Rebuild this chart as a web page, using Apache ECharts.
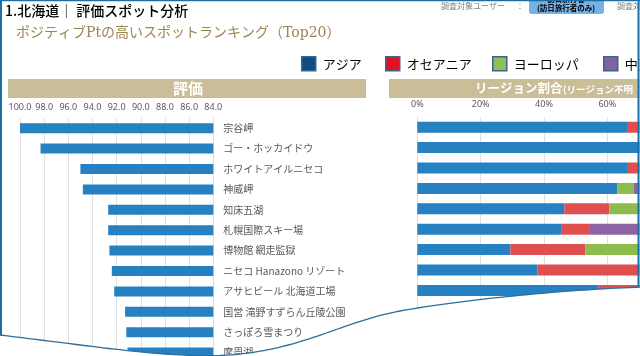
<!DOCTYPE html>
<html><head><meta charset="utf-8">
<script src="https://cdn.jsdelivr.net/npm/echarts@6/dist/echarts.min.js"></script>
<style>html,body{margin:0;padding:0;background:#fff}#c{width:640px;height:356px}</style>
</head><body><div id="c"></div>
<script>
const categories = ['宗谷岬','ゴー・ホッカイドウ','ホワイトアイルニセコ','神威岬','知床五湖','札幌国際スキー場','博物館 網走監獄','ニセコ Hanazono リゾート','アサヒビール 北海道工場','国営 滝野すずらん丘陵公園','さっぽろ雪まつり','摩周湖'];
const ratingValues = [100.0, 98.3, 95.0, 94.8, 92.7, 92.7, 92.6, 92.4, 92.2, 91.3, 91.2, 91.1];
const ratingTicks = [84, 100, 2];
const regionNames = ['アジア','オセアニア','ヨーロッパ','中東'];
const asiaShare    = [66.5, 100, 66.5, 63.1, 46.4, 45.4, 29.4, 37.9, 57.2, null, null, null];
const oceaniaShare = [33.5, 0, 33.5, 0, 14.2, 9.1, 23.6, 62.1, 42.8, null, null, null];
const europeShare  = [0, 0, 0, 5.2, 39.4, 0, 47.0, 0, 0, null, null, null];
const middleShare  = [0, 0, 0, 31.7, 0, 45.5, 0, 0, 0, null, null, null];
const shareTicks = [0, 100, 20];

const barColors = ['#2581c2','#e04f4f','#8dbb4e','#8c64a6'];
const legendColors = ['#0f4c81','#e3101e','#92c050','#8064a2'];
const legendLeft = [296, 380, 487, 598];
const FONT = '"Noto Sans CJK JP","Noto Sans",sans-serif';
const rowH = 20.4;
const gridH = categories.length * rowH;

const chart = echarts.init(document.getElementById('c'), null, {renderer:'canvas'});
const shares = [asiaShare, oceaniaShare, europeShare, middleShare];

// torn-paper edge (decoration): two cubic bezier segments sampled to points
function bez(p0, p1, p2, p3, n) {
  const out = [];
  for (let i = 0; i <= n; i++) {
    const t = i / n, u = 1 - t;
    out.push([
      u*u*u*p0[0] + 3*u*u*t*p1[0] + 3*u*t*t*p2[0] + t*t*t*p3[0],
      u*u*u*p0[1] + 3*u*u*t*p1[1] + 3*u*t*t*p2[1] + t*t*t*p3[1]
    ]);
  }
  return out;
}
const edge = bez([0,335],[100,347],[160,357],[220,355.5],40)
  .concat(bez([220,355.5],[300,352],[340,322],[400,311],40).slice(1))
  .concat(bez([400,311],[460,300],[560,290],[642,287],40).slice(1));
const edgeFill = edge.concat([[642,360],[-2,360]]);

chart.setOption({
  animation: false,
  textStyle: {fontFamily: FONT},
  legend: regionNames.map((n, i) => ({
    left: legendLeft[i], top: 51, itemWidth: 14, itemHeight: 14, icon: 'rect',
    textStyle: {fontSize: 13, color: '#000', fontFamily: FONT, padding: [0,0,0,2]},
    data: [{name: n, itemStyle: {color: legendColors[i], borderColor: '#3a6591', borderWidth: 1.5}}]
  })),
  grid: [
    {left: 20, width: 193.3, top: 118, height: gridH, outerBoundsMode: 'none', containLabel: false},
    {left: 417.3, width: 316.7, top: 117, height: gridH, outerBoundsMode: 'none', containLabel: false}
  ],
  xAxis: [
    {gridIndex: 0, type: 'value', min: ratingTicks[0], max: ratingTicks[1], interval: ratingTicks[2], inverse: true, position: 'top',
     axisLine: {show: false}, axisTick: {show: false},
     axisLabel: {fontSize: 9, color: '#595959', margin: 6, formatter: v => v.toFixed(1), fontFamily: '"Noto Sans",sans-serif'},
     splitLine: {lineStyle: {color: '#e0e0e0'}}},
    {gridIndex: 1, type: 'value', min: shareTicks[0], max: shareTicks[1], interval: shareTicks[2], position: 'top',
     axisLine: {show: false}, axisTick: {show: false},
     axisLabel: {fontSize: 9, color: '#595959', margin: 8, formatter: '{value}%', fontFamily: '"Noto Sans",sans-serif'},
     splitLine: {lineStyle: {color: '#e0e0e0'}}}
  ],
  yAxis: [
    {gridIndex: 0, type: 'category', data: categories, inverse: true, position: 'right',
     axisLine: {lineStyle: {color: '#dcdcdc'}}, axisTick: {show: false},
     axisLabel: {align: 'left', margin: 10, fontSize: 10, color: '#595959', fontFamily: FONT}},
    {gridIndex: 1, type: 'category', data: categories, inverse: true,
     axisLine: {lineStyle: {color: '#dcdcdc'}}, axisTick: {show: false}, axisLabel: {show: false}}
  ],
  series: [
    {type: 'bar', name: '評価', xAxisIndex: 0, yAxisIndex: 0, data: ratingValues, barWidth: 10,
     itemStyle: {color: '#2581c2'}, clip: true}
  ].concat(regionNames.map((n, i) => ({
    type: 'bar', name: n, xAxisIndex: 1, yAxisIndex: 1, stack: 'r', data: shares[i], barWidth: 11,
    itemStyle: {color: barColors[i]}
  }))),
  graphic: [
    {type: 'rect', shape: {x: 8, y: 79, width: 358, height: 19}, style: {fill: '#c9be98'}, z: 1},
    {type: 'text', x: 188, y: 88.5, style: {text: '評価', fill: '#fff', font: 'bold 15px ' + FONT, align: 'center', verticalAlign: 'middle'}, z: 2},
    {type: 'rect', shape: {x: 389, y: 79, width: 260, height: 19}, style: {fill: '#c9be98'}, z: 1},
    {type: 'text', x: 475, y: 88.5, style: {text: 'リージョン割合', fill: '#fff', font: 'bold 12.5px ' + FONT, verticalAlign: 'middle'}, z: 2},
    {type: 'text', x: 563, y: 89.5, style: {text: '(リージョン不明', fill: '#fff', font: 'bold 9.5px ' + FONT, verticalAlign: 'middle'}, z: 2},
    {type: 'text', x: 5, y: 11, style: {text: '1.北海道｜ 評価スポット分析', fill: '#000', font: '500 14px ' + FONT, verticalAlign: 'middle'}, z: 2},
    {type: 'text', x: 16, y: 33, style: {text: 'ポジティブPtの高いスポットランキング（Top20）', fill: '#9b8552', font: '14px "DejaVu Serif","Noto Sans CJK JP",serif', verticalAlign: 'middle'}, z: 2},
    {type: 'text', x: 441, y: 6, style: {text: '調査対象ユーザー', fill: '#7f7f7f', font: '8px ' + FONT, verticalAlign: 'middle'}, z: 2},
    {type: 'text', x: 516, y: 6, style: {text: '：', fill: '#7f7f7f', font: '8px ' + FONT, verticalAlign: 'middle'}, z: 2},
    {type: 'rect', shape: {x: 529, y: -6, width: 75, height: 20, r: 3}, style: {fill: '#78b1e6'}, z: 2},
    {type: 'text', x: 566, y: -1, style: {text: '訪日旅行者', fill: '#000', font: 'bold 7.5px ' + FONT, align: 'center', verticalAlign: 'middle'}, z: 3},
    {type: 'text', x: 566, y: 8, style: {text: '(訪日旅行者のみ)', fill: '#000', font: 'bold 7.5px ' + FONT, align: 'center', verticalAlign: 'middle'}, z: 3},
    {type: 'text', x: 617, y: 6, style: {text: '調査対象', fill: '#7f7f7f', font: '8px ' + FONT, verticalAlign: 'middle'}, z: 2},
    {type: 'polygon', shape: {points: edgeFill}, style: {fill: '#fff'}, z: 50},
    {type: 'polyline', shape: {points: edge}, style: {fill: null, stroke: '#2a6f9e', lineWidth: 1.3}, z: 51},
    {type: 'line', shape: {x1: 1, y1: 0, x2: 1, y2: 335}, style: {stroke: '#1e6fa3', lineWidth: 2}, z: 51},
    {type: 'line', shape: {x1: 0, y1: 0.5, x2: 640, y2: 0.5}, style: {stroke: '#1e6fa3', lineWidth: 1.5}, z: 51},
    {type: 'rect', shape: {x: 639.5, y: 0, width: 2, height: 287}, style: {fill: '#fff'}, z: 50},
    {type: 'line', shape: {x1: 638.5, y1: 0, x2: 638.5, y2: 287}, style: {stroke: '#1e6fa3', lineWidth: 2}, z: 51}
  ]
});
</script></body></html>
